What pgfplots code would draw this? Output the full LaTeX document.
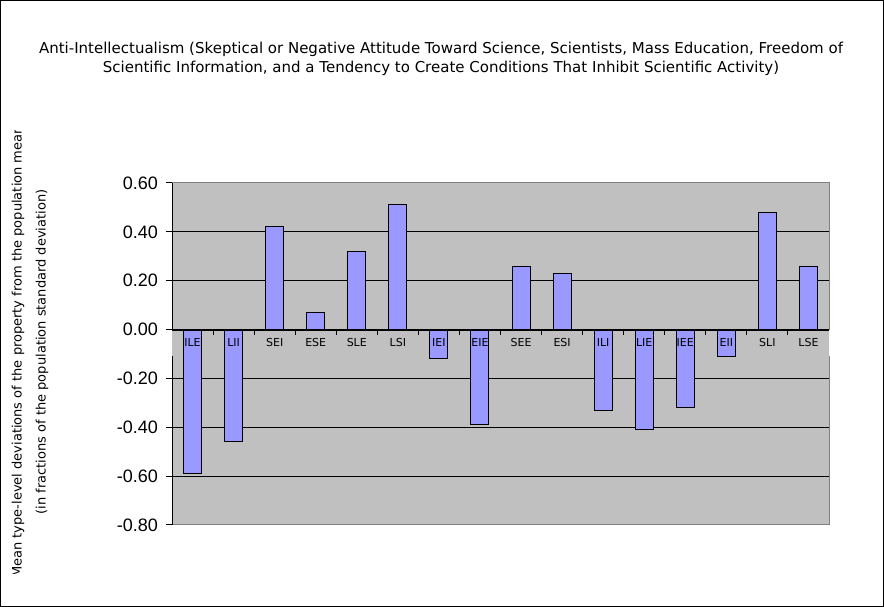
\documentclass[border=0pt]{standalone}
\usepackage{pgfplots}
\pgfplotsset{compat=1.18}
\usepackage{fontspec}
\setmainfont{DejaVu Sans}
\newfontfamily\arial{Liberation Sans}
\definecolor{plotbg}{HTML}{C0C0C0}
\definecolor{barfill}{HTML}{9999FF}
\definecolor{bordergray}{HTML}{808080}
\tikzset{catlabel/.style={font=\fontsize{11}{13}\selectfont, anchor=center, inner sep=0pt, yshift=-12.5pt}}
\begin{document}
\begin{tikzpicture}[x=1pt,y=1pt]
\fill[white] (0,0) rectangle (884,607);
\draw[line width=1pt] (0.5,0.5) rectangle (883.5,606.5);
\node[align=center, font=\fontsize{15}{19}\selectfont] at (441,548.5)
  {Anti-Intellectualism (Skeptical or Negative Attitude Toward Science, Scientists, Mass Education, Freedom of\\Scientific Information, and a Tendency to Create Conditions That Inhibit Scientific Activity)};
\begin{scope}
\clip (0,33) rectangle (100,476);
\node[rotate=90, align=center, font=\fontsize{13}{24}\selectfont] at (30,255)
  {Mean type-level deviations of the property from the population mean\\(in fractions of the population standard deviation)};
\end{scope}
\begin{axis}[
  at={(172pt,82pt)}, anchor=south west,
  scale only axis, width=657pt, height=342pt,
  xmin=-0.5, xmax=15.5, ymin=-0.8, ymax=0.6,
  clip=false,
  axis background/.style={fill=plotbg},
  axis line style={draw=none},
  ymajorgrids, grid style={black, line width=1pt},
  ytick={-0.8,-0.6,-0.4,-0.2,0,0.2,0.4,0.6},
  yticklabels={-0.80,-0.60,-0.40,-0.20,0.00,0.20,0.40,0.60},
  yticklabel style={font=\arial\fontsize{18}{20}\selectfont, anchor=east, inner sep=0pt, xshift=-8pt},
  ytick style={black, line width=1pt},
  ytick pos=left,
  tick align=outside, major tick length=6pt,
  xtick=\empty,
]
\addplot[ybar, bar width=18pt, fill=barfill, draw=black, line width=1pt] coordinates {
  (0,-0.59) (1,-0.46) (2,0.42) (3,0.07) (4,0.32) (5,0.51) (6,-0.12) (7,-0.39)
  (8,0.26) (9,0.23) (10,-0.33) (11,-0.41) (12,-0.32) (13,-0.11) (14,0.48) (15,0.26)
};
\draw[line width=2pt] (axis cs:-0.5,0) -- (axis cs:15.5,0);
\pgfplotsinvokeforeach{0.5,1.5,2.5,3.5,4.5,5.5,6.5,7.5,8.5,9.5,10.5,11.5,12.5,13.5,14.5}{
  \draw[line width=1pt] (axis cs:#1,0) -- ([yshift=-5pt]axis cs:#1,0);
}
\draw[bordergray, line width=1pt] (axis cs:-0.5,0.6) -- (axis cs:15.5,0.6) -- (axis cs:15.5,0);
\draw[bordergray, line width=1pt] (axis cs:15.5,-0.107) -- (axis cs:15.5,-0.8) -- (axis cs:-0.5,-0.8);
\draw[black, line width=1pt] (axis cs:-0.5,0.6) -- (axis cs:-0.5,0);
\draw[black, line width=1pt] (axis cs:-0.5,-0.107) -- (axis cs:-0.5,-0.8);
\node[catlabel] at (axis cs:0,0) {ILE};
\node[catlabel] at (axis cs:1,0) {LII};
\node[catlabel] at (axis cs:2,0) {SEI};
\node[catlabel] at (axis cs:3,0) {ESE};
\node[catlabel] at (axis cs:4,0) {SLE};
\node[catlabel] at (axis cs:5,0) {LSI};
\node[catlabel] at (axis cs:6,0) {IEI};
\node[catlabel] at (axis cs:7,0) {EIE};
\node[catlabel] at (axis cs:8,0) {SEE};
\node[catlabel] at (axis cs:9,0) {ESI};
\node[catlabel] at (axis cs:10,0) {ILI};
\node[catlabel] at (axis cs:11,0) {LIE};
\node[catlabel] at (axis cs:12,0) {IEE};
\node[catlabel] at (axis cs:13,0) {EII};
\node[catlabel] at (axis cs:14,0) {SLI};
\node[catlabel] at (axis cs:15,0) {LSE};
\end{axis}
\end{tikzpicture}
\end{document}
